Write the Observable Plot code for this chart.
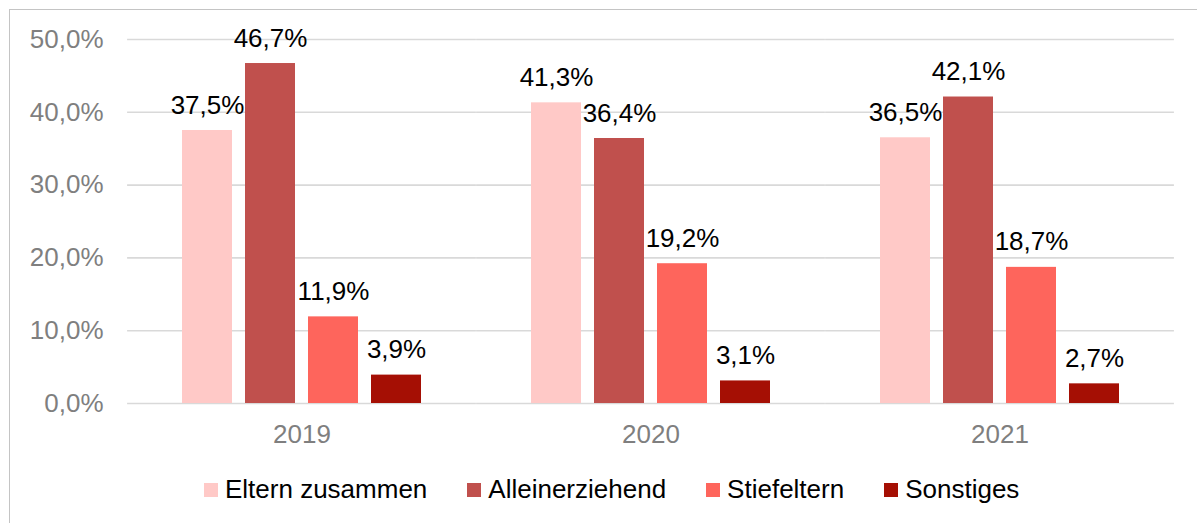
<!DOCTYPE html>
<html>
<head>
<meta charset="utf-8">
<script src="https://cdn.jsdelivr.net/npm/d3@7"></script>
<script src="https://cdn.jsdelivr.net/npm/@observablehq/plot@0.6"></script>
<style>
  html, body { margin: 0; padding: 0; background: #fff; overflow: hidden; }
  body { width: 1197px; height: 523px; position: relative; font-family: "Liberation Sans", Arial, sans-serif; }
  #frame { position: absolute; left: 9px; top: 9px; width: 1250px; height: 600px; border: 1.5px solid #c4c4c4; box-sizing: border-box; }
  #chart { position: absolute; left: 0; top: 0; }
  #legend { position: absolute; left: 204px; top: 474px; display: flex; align-items: center; font-size: 26px; color: #000; white-space: nowrap; }
  .item { display: flex; align-items: center; margin-right: 40px; }
  .sw { width: 14px; height: 14px; margin-right: 7px; }
</style>
</head>
<body>
<div id="frame"></div>
<div id="chart"></div>
<div id="legend"></div>
<script>
const years = ["2019", "2020", "2021"];
const categories = ["Eltern zusammen", "Alleinerziehend", "Stiefeltern", "Sonstiges"];
const colors = ["#ffc9c7", "#c0504d", "#fe655c", "#a50f04"];
const elternZusammen = [37.5, 41.3, 36.5];
const alleinerziehend = [46.7, 36.4, 42.1];
const stiefeltern = [11.9, 19.2, 18.7];
const sonstiges = [3.9, 3.1, 2.7];
const yTicks = [0, 10, 20, 30, 40, 50];

const series = [elternZusammen, alleinerziehend, stiefeltern, sonstiges];
const data = [];
years.forEach((y, i) => {
  categories.forEach((c, j) => {
    data.push({year: y, cat: c, value: series[j][i]});
  });
});

const fmt = v => v.toFixed(1).replace(".", ",") + "%";

const W = 1197, ML = 126, MR = 22;
const fxPadInner = 0.274, fxPadOuter = 0.137;
// half of the gap between facets, so gridlines run continuously across the frame
const fxStep = (W - ML - MR) / (years.length - fxPadInner + 2 * fxPadOuter);
const ext = fxStep * fxPadOuter;

const plot = Plot.plot({
  width: W,
  height: 460,
  marginLeft: ML,
  marginRight: MR,
  marginTop: 39,
  marginBottom: 57,
  style: {fontFamily: "'Liberation Sans', Arial, sans-serif", fontSize: "26px", background: "transparent"},
  fx: {domain: years, paddingInner: fxPadInner, paddingOuter: fxPadOuter, label: null},
  x: {domain: categories, paddingInner: 0.213, paddingOuter: 0.1065, axis: null},
  y: {domain: [0, 50], ticks: yTicks, label: null},
  color: {domain: categories, range: colors},
  marks: [
    Plot.ruleY(yTicks, {stroke: "#d9d9d9", strokeWidth: 1.6, strokeOpacity: 1, insetLeft: -ext, insetRight: -ext}),
    Plot.axisY(yTicks, {tickSize: 0, tickPadding: 24 + ext, tickFormat: fmt, fill: "#7f7f7f", label: null, fontSize: 26}),
    Plot.axisFx({anchor: "bottom", tickSize: 0, tickPadding: 21, fill: "#7f7f7f", label: null, fontSize: 26}),
    Plot.barY(data, {fx: "year", x: "cat", y: "value", fill: "cat"}),
    Plot.text(data, {fx: "year", x: "cat", y: "value", text: d => fmt(d.value), lineAnchor: "bottom", dy: -17, fill: "#000", fontSize: 26})
  ]
});
document.getElementById("chart").appendChild(plot);

const legend = document.getElementById("legend");
categories.forEach((c, i) => {
  const it = document.createElement("div");
  it.className = "item";
  const sw = document.createElement("div");
  sw.className = "sw";
  sw.style.background = colors[i];
  const t = document.createElement("span");
  t.textContent = c;
  it.appendChild(sw);
  it.appendChild(t);
  legend.appendChild(it);
});
</script>
</body>
</html>
